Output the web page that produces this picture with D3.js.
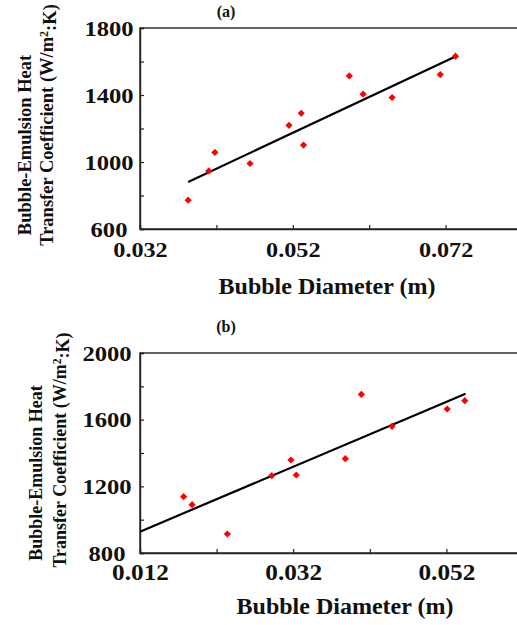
<!DOCTYPE html>
<html>
<head>
<meta charset="utf-8">
<script src="https://cdn.jsdelivr.net/npm/d3@7"></script>
<style>
  html, body { margin: 0; padding: 0; background: #fff; }
  svg { display: block; }
  text { font-family: "Liberation Serif", "Times New Roman", serif; font-weight: bold; fill: #111; }
</style>
</head>
<body>
<svg id="chart" width="517" height="625"></svg>
<script>
// ---- Data ----
const panelA_x = [0.0383, 0.0410, 0.0418, 0.0464, 0.0515, 0.0531, 0.0534, 0.0594, 0.0612, 0.0650, 0.0713, 0.0733];
const panelA_y = [772, 947, 1057, 991, 1219, 1291, 1101, 1514, 1405, 1385, 1522, 1632];
const panelA_fitX = [0.0383, 0.0733];
const panelA_fitY = [881, 1630];
const panelA_xTicks = [0.032, 0.042, 0.052, 0.062, 0.072];
const panelA_xLabels = [0.032, 0.052, 0.072];
const panelA_yTicks = [600, 800, 1000, 1200, 1400, 1600, 1800];
const panelA_yLabels = [600, 1000, 1400, 1800];

const panelB_x = [0.0177, 0.0188, 0.0234, 0.0292, 0.0317, 0.0324, 0.0388, 0.0409, 0.0449, 0.0521, 0.0544];
const panelB_y = [1138, 1090, 914, 1264, 1358, 1268, 1366, 1752, 1560, 1664, 1714];
const panelB_fitX = [0.012, 0.0545];
const panelB_fitY = [928, 1756];
const panelB_xTicks = [0.012, 0.022, 0.032, 0.042, 0.052];
const panelB_xLabels = [0.012, 0.032, 0.052];
const panelB_yTicks = [800, 1000, 1200, 1400, 1600, 1800, 2000];
const panelB_yLabels = [800, 1200, 1600, 2000];

const xTitle = "Bubble Diameter (m)";
const yTitle1 = "Bubble-Emulsion  Heat";

const svg = d3.select("#chart");

function panel(cfg) {
  const x = d3.scaleLinear().domain(cfg.xDomain).range([cfg.left, cfg.right]);
  const y = d3.scaleLinear().domain(cfg.yDomain).range([cfg.bottom, cfg.top]);
  const g = svg.append("g");

  // frame (top/right part; right edge runs off the picture)
  g.append("rect")
    .attr("x", cfg.left).attr("y", cfg.top)
    .attr("width", cfg.right - cfg.left).attr("height", cfg.bottom - cfg.top)
    .attr("fill", "none").attr("stroke", "#222").attr("stroke-width", 1.4);

  const sx = 1.2;
  // x axis
  const xa = g.append("g").attr("transform", `translate(0,${cfg.bottom})`)
    .call(d3.axisBottom(x).tickValues(cfg.xTicks).tickSize(-4)
      .tickFormat(d => cfg.xLabels.some(v => Math.abs(v - d) < 1e-9) ? d3.format(".3f")(d) : ""));
  xa.select(".domain").attr("stroke", "#222").attr("stroke-width", 1.4);
  xa.selectAll(".tick line").attr("stroke", "#222").attr("stroke-width", 1.2);
  xa.selectAll(".tick text")
    .attr("y", 0).attr("dy", 0)
    .attr("transform", `translate(0,${cfg.xLabelBase}) scale(1.1,1)`)
    .style("font-size", cfg.xTickSize + "px")
    .style("font-family", '"Liberation Serif", serif').style("font-weight", "bold").attr("fill", "#111");

  // y axis
  const ya = g.append("g").attr("transform", `translate(${cfg.left},0)`)
    .call(d3.axisLeft(y).tickValues(cfg.yTicks).tickSize(-4)
      .tickFormat(d => cfg.yLabels.includes(d) ? d : ""));
  ya.select(".domain").attr("stroke", "#222").attr("stroke-width", 1.4);
  ya.selectAll(".tick line").attr("stroke", "#222").attr("stroke-width", 1.2);
  ya.selectAll(".tick text")
    .attr("x", (cfg.yLabelCx - cfg.left) / sx)
    .attr("dy", "0.35em")
    .attr("text-anchor", "middle")
    .attr("transform", `scale(${sx},1)`)
    .style("font-size", "20.5px")
    .style("font-family", '"Liberation Serif", serif').style("font-weight", "bold").attr("fill", "#111");

  // fit line
  const fit = cfg.fitX.map((v, i) => [v, cfg.fitY[i]]);
  g.append("path")
    .attr("d", d3.line().x(d => x(d[0])).y(d => y(d[1]))(fit))
    .attr("fill", "none").attr("stroke", "#000").attr("stroke-width", 2.2);

  // points
  const pts = cfg.xs.map((v, i) => [v, cfg.ys[i]]);
  g.selectAll(".pt").data(pts).join("path")
    .attr("class", "pt")
    .attr("d", d3.symbol().type(d3.symbolSquare).size(26))
    .attr("transform", d => `translate(${x(d[0])},${y(d[1])}) rotate(45)`)
    .attr("fill", "#ff0000");

  // panel label
  g.append("text").attr("x", cfg.tagX).attr("y", cfg.tagY)
    .attr("text-anchor", "middle").style("font-size", "16px").text(cfg.tag);

  // x title
  g.append("text").attr("x", cfg.xTitleX).attr("y", cfg.xTitleY)
    .attr("text-anchor", "middle").style("font-size", "24px").text(xTitle);

  // y titles (two lines, rotated)
  g.append("text")
    .attr("transform", `translate(${cfg.yT1x},${cfg.yT1c}) rotate(-90)`)
    .attr("text-anchor", "middle").attr("dy", "0.35em")
    .style("font-size", cfg.yTsize + "px").text(yTitle1);
  const t2 = g.append("text")
    .attr("transform", `translate(${cfg.yT2x},${cfg.yT2c}) rotate(-90)`)
    .attr("text-anchor", "middle").attr("dy", "0.35em")
    .style("font-size", cfg.yTsize + "px");
  t2.append("tspan").text("Transfer Coefficient (W/m");
  t2.append("tspan").attr("dy", "-0.45em").style("font-size", (cfg.yTsize * 0.65) + "px").text("2");
  t2.append("tspan").attr("dy", "0.45em").text(":K)");
}

panel({
  xs: panelA_x, ys: panelA_y, fitX: panelA_fitX, fitY: panelA_fitY,
  xDomain: [0.032, 0.082], yDomain: [600, 1800],
  left: 140, right: 522, top: 28, bottom: 229,
  xTicks: panelA_xTicks, xLabels: panelA_xLabels,
  yTicks: panelA_yTicks, yLabels: panelA_yLabels,
  xLabelBase: 28, xTickSize: 22, yLabelCx: 109,
  tag: "(a)", tagX: 226, tagY: 17,
  xTitleX: 327, xTitleY: 294,
  yT1x: 25, yT1c: 145, yT2x: 47, yT2c: 125, yTsize: 18.5
});

panel({
  xs: panelB_x, ys: panelB_y, fitX: panelB_fitX, fitY: panelB_fitY,
  xDomain: [0.012, 0.062], yDomain: [800, 2000],
  left: 140, right: 523, top: 353, bottom: 553,
  xTicks: panelB_xTicks, xLabels: panelB_xLabels,
  yTicks: panelB_yTicks, yLabels: panelB_yLabels,
  xLabelBase: 27, xTickSize: 23, yLabelCx: 107,
  tag: "(b)", tagX: 226, tagY: 332,
  xTitleX: 345, xTitleY: 614,
  yT1x: 36, yT1c: 473, yT2x: 60, yT2c: 450, yTsize: 18
});
</script>
</body>
</html>
